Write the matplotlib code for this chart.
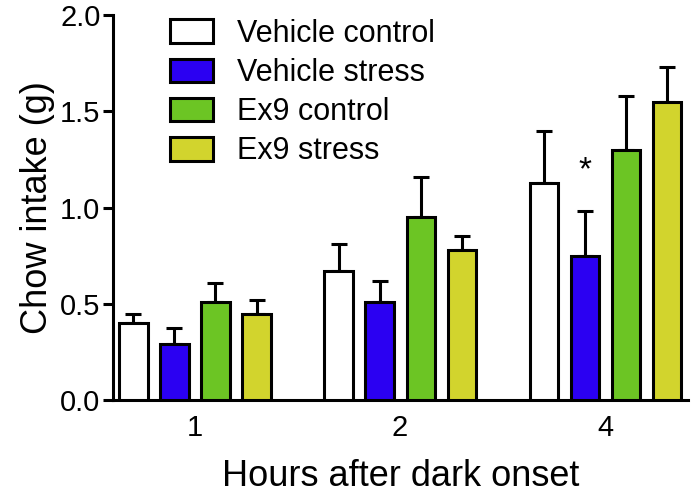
import matplotlib
matplotlib.use("Agg")
import matplotlib.pyplot as plt
import numpy as np

plt.rcParams["font.family"] = ["Liberation Sans", "DejaVu Sans"]

# Data
groups = ["1", "2", "4"]
series = ["Vehicle control", "Vehicle stress", "Ex9 control", "Ex9 stress"]
means = [
    [0.40, 0.67, 1.13],  # Vehicle control
    [0.29, 0.51, 0.75],  # Vehicle stress
    [0.51, 0.95, 1.30],  # Ex9 control
    [0.45, 0.78, 1.55],  # Ex9 stress
]
errs = [
    [0.045, 0.14, 0.27],
    [0.085, 0.11, 0.23],
    [0.10, 0.21, 0.28],
    [0.07, 0.07, 0.18],
]
colors = ["#ffffff", "#2b00f2", "#6cc524", "#d2d42d"]
star_group = 2
star_series = 1
star_y = 1.19

fig = plt.figure(figsize=(6.93, 4.99), dpi=100)
ax = fig.add_axes((0.163, 0.198, 0.830, 0.772))

x = np.arange(len(groups))
step = 0.2
width = 0.137
for i, (m, e, c, lab) in enumerate(zip(means, errs, colors, series)):
    pos = x + (i - 1.5) * step
    ax.bar(pos, m, width, color=c, edgecolor="black", linewidth=2.2,
           label=lab, zorder=3)
    ax.errorbar(pos, m, yerr=[np.zeros(len(e)), e], fmt="none",
                ecolor="black", elinewidth=2.2, capsize=6, capthick=2.2,
                zorder=2)

ax.text(x[star_group] + (star_series - 1.5) * step, star_y, "*",
        ha="center", va="center", fontsize=24)

ax.set_xlim(-0.4, 2.405)
ax.set_ylim(0, 2.0)
ax.set_yticks([0, 0.5, 1.0, 1.5, 2.0])
ax.set_yticklabels(["0.0", "0.5", "1.0", "1.5", "2.0"])
ax.set_xticks(x)
ax.set_xticklabels(groups)

for s in ["top", "right"]:
    ax.spines[s].set_visible(False)
for s in ["left", "bottom"]:
    ax.spines[s].set_linewidth(2.2)
ax.tick_params(axis="y", length=7, width=2.2, labelsize=21, pad=2)
ax.tick_params(axis="x", length=0, labelsize=21, pad=10)

ax.set_ylabel("Chow intake (g)", fontsize=26, labelpad=4)
ax.set_xlabel("Hours after dark onset", fontsize=26, labelpad=12)

ax.legend(loc="upper left", bbox_to_anchor=(0.099, 0.99), frameon=False,
          fontsize=22, handlelength=1.4, handleheight=0.82,
          handletextpad=0.8, labelspacing=0.3, borderpad=0, borderaxespad=0)

fig.savefig("out.png", dpi=100)
